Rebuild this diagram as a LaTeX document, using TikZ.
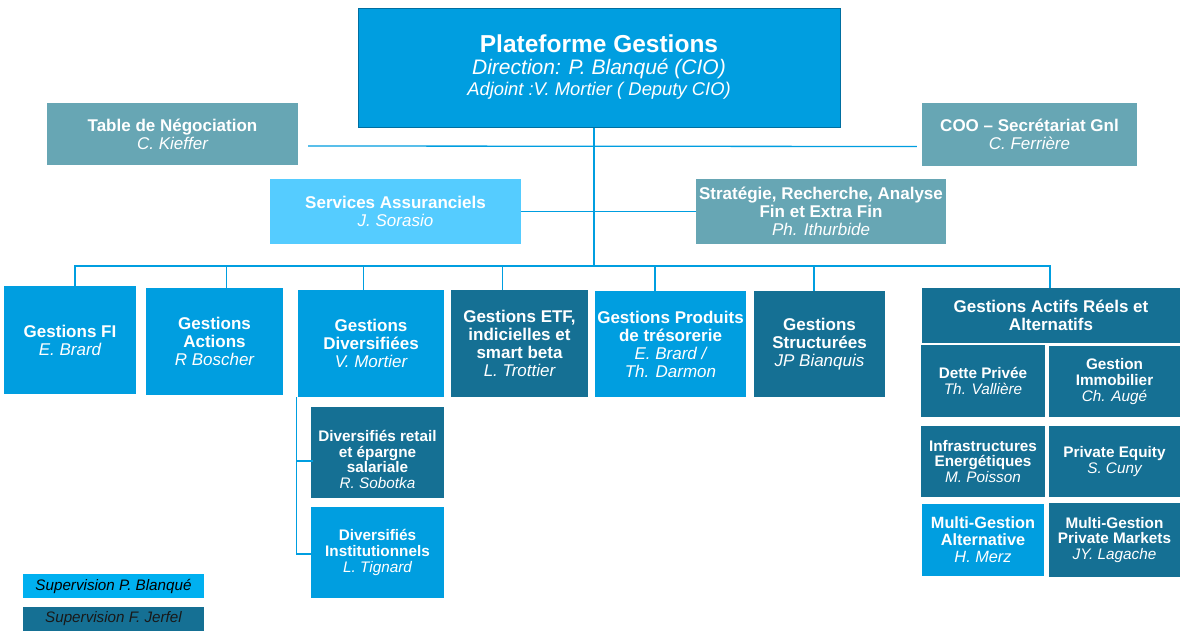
\documentclass[tikz,border=0pt]{standalone}
\usepackage{fontspec}
\setmainfont{Liberation Sans}
\usepackage{tikz}

\definecolor{cioblue}{RGB}{0,158,224}
\definecolor{jerfel}{RGB}{21,112,148}
\definecolor{support}{RGB}{103,166,180}
\definecolor{insure}{RGB}{85,204,255}
\definecolor{legblue}{RGB}{0,176,240}
\definecolor{topline}{RGB}{0,110,160}

\newcommand{\who}[1]{{\mdseries\itshape #1}}

\begin{document}
\begin{tikzpicture}[x=1pt, y=-1pt,
    unit/.style={rectangle, inner sep=0pt, align=center, text=white,
        font={\fontsize{17}{18}\selectfont\bfseries}},
    subunit/.style={unit, font={\fontsize{15.3}{15.8}\selectfont\bfseries}},
    link/.style={draw=cioblue, line width=1.3pt},
    legend/.style={rectangle, inner sep=0pt, minimum width=181, minimum height=24,
        font={\fontsize{15.2}{16}\selectfont\itshape}}]
    \fill[white] (0,0) rectangle (1183,632);
    \useasboundingbox (0,0) rectangle (1183,632);

    % Direction
    \node[unit, fill=cioblue, draw=topline, line width=1pt, minimum width=482, minimum height=119,
        font={\fontsize{24.5}{21.5}\selectfont\bfseries}] (top) at (599,67.5)
        {Plateforme Gestions\\
         {\fontsize{21}{22}\selectfont\mdseries\itshape Direction: P. Blanqué (CIO)}\\
         {\fontsize{18.4}{19}\selectfont\mdseries\itshape Adjoint :V. Mortier ( Deputy CIO)}};

    % Support functions
    \node[unit, fill=support, minimum width=251, minimum height=62] (tab) at (172.5,134)
        {Table de Négociation\\\who{C. Kieffer}};
    \node[unit, fill=support, minimum width=215, minimum height=63] (coo) at (1029.5,134.5)
        {COO – Secrétariat Gnl\\\who{C. Ferrière}};
    \node[unit, fill=insure, minimum width=251, minimum height=65] (serv) at (395.5,211.5)
        {Services Assuranciels\\\who{J. Sorasio}};
    \node[unit, fill=support, minimum width=250, minimum height=65] (strat) at (821,211.5)
        {Stratégie, Recherche, Analyse\\Fin et Extra Fin\\\who{Ph. Ithurbide}};

    % Investment teams
    \node[unit, fill=cioblue, minimum width=132, minimum height=108] (fi) at (70,340)
        {Gestions FI\\\who{E. Brard}};
    \node[unit, fill=cioblue, minimum width=137, minimum height=107] (act) at (214.5,341.5)
        {Gestions\\Actions\\\who{R Boscher}};
    \node[unit, fill=cioblue, minimum width=146, minimum height=107] (div) at (371,343.5)
        {Gestions\\Diversifiées\\\who{V. Mortier}};
    \node[unit, fill=jerfel, minimum width=137, minimum height=107] (etf) at (519.5,343.5)
        {Gestions ETF,\\indicielles et\\smart beta\\\who{L. Trottier}};
    \node[unit, fill=cioblue, minimum width=151, minimum height=106] (tres) at (670.5,344)
        {Gestions Produits\\de trésorerie\\\who{E. Brard /}\\\who{Th. Darmon}};
    \node[unit, fill=jerfel, minimum width=131, minimum height=106] (struc) at (819.5,344)
        {Gestions\\Structurées\\\who{JP Bianquis}};
    \node[unit, fill=jerfel, minimum width=258, minimum height=55] (actifs) at (1051,315.5)
        {Gestions Actifs Réels et\\Alternatifs};

    % Real and alternative assets
    \node[subunit, fill=jerfel, minimum width=124, minimum height=72] (dette) at (983,381)
        {Dette Privée\\\who{Th. Vallière}};
    \node[subunit, fill=jerfel, minimum width=131, minimum height=71] (immo) at (1114.5,381.5)
        {Gestion\\Immobilier\\\who{Ch. Augé}};
    \node[subunit, fill=jerfel, minimum width=124, minimum height=71] (infra) at (983,461.5)
        {Infrastructures\\Energétiques\\\who{M. Poisson}};
    \node[subunit, fill=jerfel, minimum width=131, minimum height=71] (pe) at (1114.5,461.5)
        {Private Equity\\\who{S. Cuny}};
    \node[subunit, fill=cioblue, minimum width=122, minimum height=72,
        font={\fontsize{16.3}{17}\selectfont\bfseries}] (mga) at (983,540)
        {Multi-Gestion\\Alternative\\\who{H. Merz}};
    \node[subunit, fill=jerfel, minimum width=131, minimum height=74] (mgpm) at (1114.5,540)
        {Multi-Gestion\\Private Markets\\\who{JY. Lagache}};

    % Diversified sub-teams
    \node[subunit, fill=jerfel, minimum width=133, minimum height=91] (retail) at (377.5,452.5)
        {\rule{0pt}{25pt}Diversifiés retail\\et épargne\\salariale\\\who{R. Sobotka}};
    \node[subunit, fill=cioblue, minimum width=133, minimum height=91] (inst) at (377.5,552.5)
        {Diversifiés\\Institutionnels\\\who{L. Tignard}};

    % Legend
    \node[legend, fill=legblue, text=black] (legpb) at (113.5,586) {Supervision P. Blanqué};
    \node[legend, fill=jerfel, text=black!90] (legfj) at (113.5,619) {Supervision F. Jerfel};

    % Links
    \coordinate (bus) at (594,266);
    \draw[link] (top.south -| bus) -- (bus);
    \draw[link] ([shift={(10,12)}]tab.east) -- ([shift={(-5,12)}]coo.west);
    \draw[link] (serv.east) -- (strat.west);
    \foreach \n/\dx in {fi/5, act/12, div/-7.4, etf/-17, tres/-15.5, struc/-5.5, actifs/-1}
        \draw[link] ([shift={(\dx,0)}]\n.north) |- (bus);
    \draw[link] ([shift={(-1.5,0)}]div.south west) |- ([shift={(2,8.5)}]retail.west);
    \draw[link] ([shift={(-1.5,0)}]div.south west) |- ([shift={(2,1.5)}]inst.west);
\end{tikzpicture}
\end{document}
